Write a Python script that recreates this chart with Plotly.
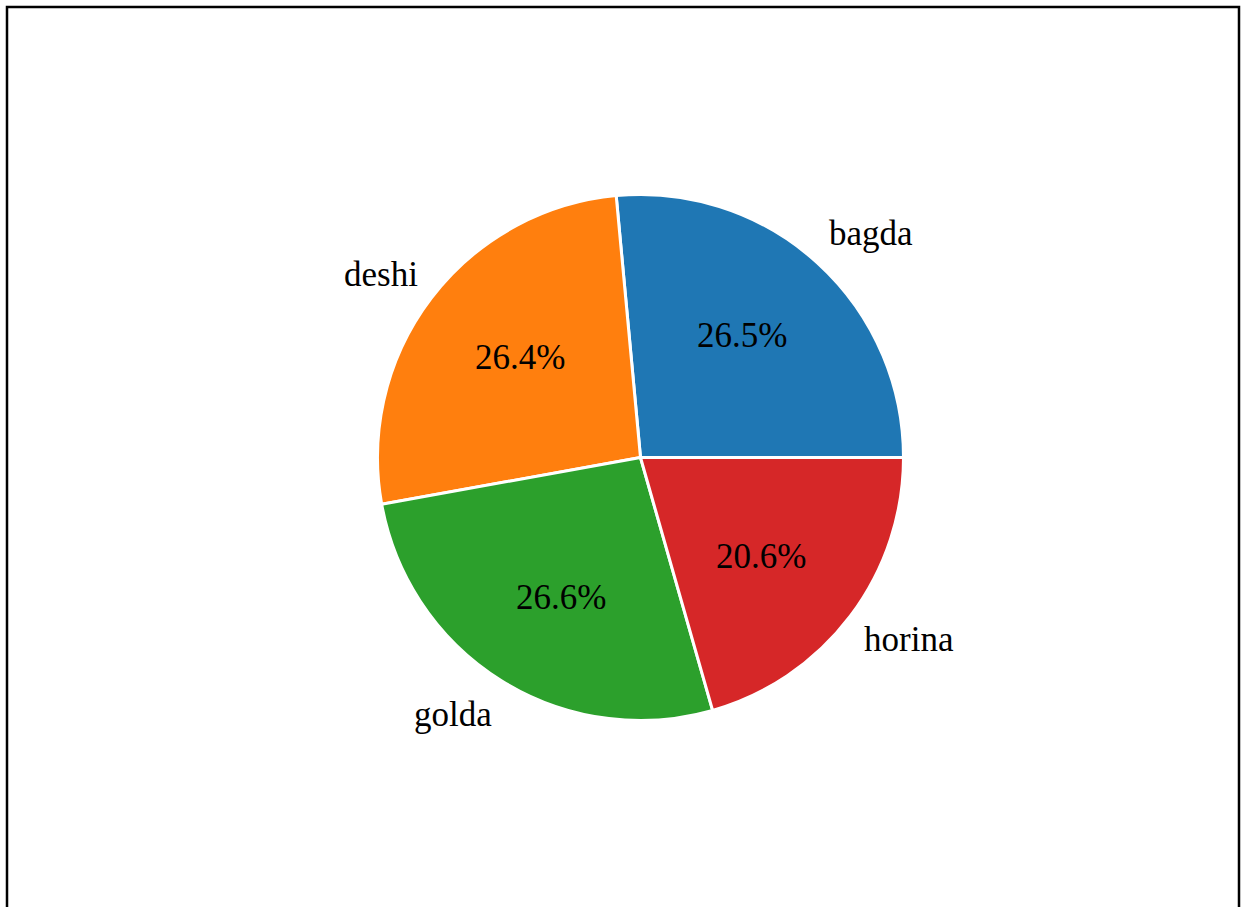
import numpy as np
import plotly.graph_objects as go

# Shrimp varieties and their share (%)
categories = ["bagda", "deshi", "golda", "horina"]
shares = [26.5, 26.4, 26.6, 20.6]
colors = ["#1f77b4", "#ff7f0e", "#2ca02c", "#d62728"]

W, H = 1246, 907
CX, CY, R = 640.5, 457.5, 263.0  # pie centre and radius in pixels
RX, RY = 252.0, 275.0            # radii used for placing the wedge labels
FONT = "Liberation Serif, Times New Roman, serif"

dom_x = [(CX - R) / W, (CX + R) / W]
dom_y = [1 - (CY + R) / H, 1 - (CY - R) / H]

vals = np.array(shares, dtype=float)
frac = vals / vals.sum()

# Plotly's counterclockwise pies put the first slice's clockwise edge at
# `rotation`; rotate so the first wedge starts at 3 o'clock and turns upward.
start_rotation = 90 - 360 * frac[0]

fig = go.Figure(
    go.Pie(
        labels=categories,
        values=shares,
        sort=False,
        direction="counterclockwise",
        rotation=start_rotation,
        marker=dict(colors=colors, line=dict(color="white", width=3)),
        textinfo="none",
        hoverinfo="label+percent",
        showlegend=False,
        domain=dict(x=dom_x, y=dom_y),
    )
)

# Wedge labels: percentage at 0.6 radius, category name at 1.1 radius
mid = 2 * np.pi * (np.cumsum(frac) - frac / 2)
annotations = []
for name, v, a in zip(categories, shares, mid):
    c, s = np.cos(a), np.sin(a)
    annotations.append(dict(
        x=(CX + 0.6 * RX * c) / W, y=1 - (CY - 0.6 * RY * s) / H,
        xref="paper", yref="paper", text=f"{v:.1f}%", showarrow=False,
        xanchor="center", yanchor="middle",
        font=dict(family=FONT, size=35, color="black"),
    ))
    annotations.append(dict(
        x=(CX + 1.1 * RX * c) / W, y=1 - (CY - 1.1 * RY * s) / H,
        xref="paper", yref="paper", text=name, showarrow=False,
        xanchor="left" if c > 0 else "right", yanchor="middle",
        font=dict(family=FONT, size=35, color="black"),
    ))

fig.update_layout(
    width=W, height=H,
    margin=dict(l=0, r=0, t=0, b=0),
    paper_bgcolor="white",
    plot_bgcolor="white",
    annotations=annotations,
    shapes=[dict(
        type="rect", xref="paper", yref="paper",
        x0=7 / W, x1=1239 / W, y0=-0.02, y1=1 - 7 / H,
        line=dict(color="black", width=2.5), fillcolor="rgba(0,0,0,0)",
    )],
)

fig.write_html("out.html")
